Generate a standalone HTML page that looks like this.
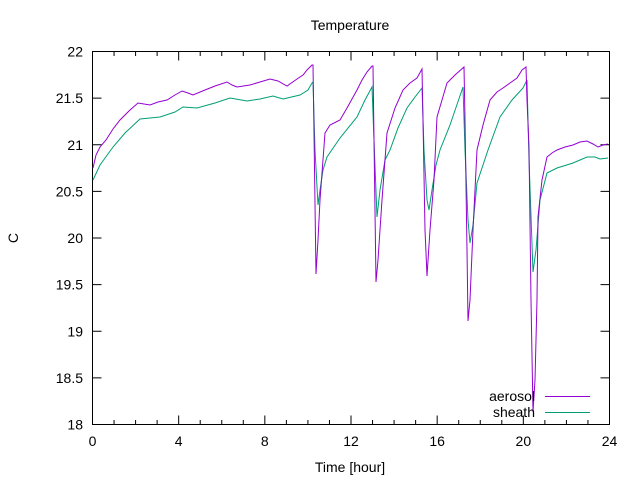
<!DOCTYPE html>
<html><head><meta charset="utf-8"><style>
body{margin:0;background:#fff}
svg{font-family:"Liberation Sans","DejaVu Sans",sans-serif;font-size:14px}
</style></head><body>
<svg width="640" height="480" xmlns="http://www.w3.org/2000/svg">
<rect width="640" height="480" fill="#fff"/>
<g id="ticks" stroke="#000" stroke-width="1"></g>
<rect x="92.5" y="51.5" width="517" height="373" fill="none" stroke="#000"/>
<g id="labels" fill="#000"></g>
<text x="350" y="30" text-anchor="middle">Temperature</text>
<text x="350" y="472" text-anchor="middle">Time [hour]</text>
<text x="18" y="238" text-anchor="middle" transform="rotate(-90 18 238)">C</text>
<polyline fill="none" stroke="#009e73" stroke-width="1" points="93,180 100,165 113,147 125,133 140,119 150,118 160,117 175,112 183,107 197,108 215,103 230,98 247,101 260,99 273,96 283,99 300,95 308,90 312,83 313,82 315,150 318,205 320,190 323,170 327,157 340,138 357,117 365,100 372,87 374,140 377,217 380,190 385,160 390,150 398,128 407,108 415,97 422,88 424,150 427,200 429,210 432,190 436,165 440,150 450,125 463,87 465,150 468,220 470,243 473,225 477,183 488,150 500,117 512,100 523,88 527,80 529,160 533,272 536,250 540,200 547,173 557,168 573,163 587,157 595,157 600,159 608,158"/>
<polyline fill="none" stroke="#9400d3" stroke-width="1" points="93,168 96,155 100,147 106,140 113,129 120,120 130,110 138,103 144,104 150,105 158,102 167,100 175,95 182,91 188,93 193,95 205,90 215,86 227,82 232,85 237,87 250,85 260,82 270,79 278,81 287,86 297,79 303,75 307,70 312,65 313,65 314,133 316,274 318,240 320,200 325,133 330,125 340,120 347,108 357,90 362,80 367,72 372,66 373,66 374,140 376,282 378,260 382,200 387,133 395,108 403,90 410,83 417,78 422,69 423,120 425,230 427,276 430,230 434,180 437,117 442,100 447,83 455,75 464,67 465,120 467,250 468,321 470,300 473,230 477,150 483,125 490,100 497,92 503,88 510,83 517,78 522,70 526,67 527,100 529,147 531,300 533,412 535,380 537,300 538,217 542,180 547,157 552,153 557,150 565,147 573,145 580,142 587,141 593,144 598,147 603,145 608,144"/>
<text x="535" y="401" text-anchor="end">aerosol</text>
<line x1="545" y1="396.5" x2="590" y2="396.5" stroke="#9400d3"/>
<text x="535" y="417" text-anchor="end">sheath</text>
<line x1="545" y1="412.5" x2="590" y2="412.5" stroke="#009e73"/>
<script>
var t=document.getElementById('ticks'),l=document.getElementById('labels'),ns='http://www.w3.org/2000/svg';
function line(a,b,c,d){var e=document.createElementNS(ns,'line');e.setAttribute('x1',a);e.setAttribute('y1',b);e.setAttribute('x2',c);e.setAttribute('y2',d);t.appendChild(e);}
function txt(x,y,s,a){var e=document.createElementNS(ns,'text');e.setAttribute('x',x);e.setAttribute('y',y);e.setAttribute('text-anchor',a);e.textContent=s;l.appendChild(e);}
for(var h=0;h<=24;h++){var x=92.5+h*517/24;var len=(h%4==0)?9:4.5;line(x,424.5,x,424.5-len);line(x,51.5,x,51.5+len);if(h%4==0)txt(x,446,String(h),'middle');}
for(var i=0;i<=8;i++){var v=18+i*0.5;var y=424.5-i*46.625;line(92.5,y,101.5,y);line(609.5,y,600.5,y);txt(83,y+5,String(v),'end');}
</script>
</svg>
</body></html>
